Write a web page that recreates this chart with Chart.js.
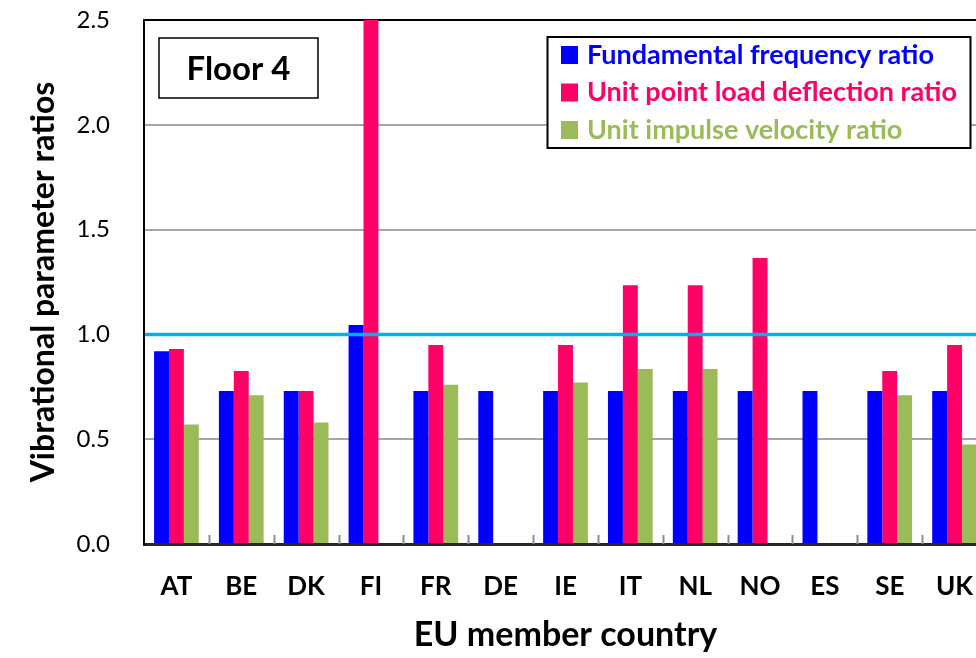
<!DOCTYPE html>
<html lang="en">
<head>
    <meta charset="UTF-8">
    <title>Floor 4 - vibrational parameter ratios</title>
    <script src="https://cdn.jsdelivr.net/npm/chart.js"></script>
    <style>
        html, body {
            margin: 0;
            padding: 0;
            background: #ffffff;
            overflow: hidden;
        }

        canvas {
            display: block;
        }
    </style>
</head>
<body>
    <canvas id="floorChart" width="992" height="658"></canvas>

    <script>
        // Data
        const countries = ['AT', 'BE', 'DK', 'FI', 'FR', 'DE', 'IE', 'IT', 'NL', 'NO', 'ES', 'SE', 'UK'];
        const frequencyRatio = [0.92, 0.73, 0.73, 1.045, 0.73, 0.73, 0.73, 0.73, 0.73, 0.73, 0.73, 0.73, 0.73];
        const deflectionRatio = [0.93, 0.825, 0.73, 2.5, 0.95, null, 0.95, 1.235, 1.235, 1.365, null, 0.825, 0.95];
        const velocityRatio = [0.57, 0.71, 0.58, null, 0.76, null, 0.77, 0.835, 0.835, null, null, 0.71, 0.475];
        const yTicks = [0, 0.5, 1.0, 1.5, 2.0, 2.5];
        const referenceLine = 1.0;
        const panelLabel = 'Floor 4';

        const FONT = 'Lato, Calibri, "Open Sans", sans-serif';

        // Reference line at 1.0, small inner ticks, label box and legend box
        const decorations = {
            id: 'decorations',
            afterDatasetsDraw(chart) {
                const { ctx, chartArea } = chart;
                const x = chart.scales.x;
                const y = chart.scales.y;
                ctx.save();

                // inner tick marks between categories
                ctx.strokeStyle = '#8c8c8c';
                ctx.lineWidth = 2;
                for (let i = 1; i < countries.length; i++) {
                    const px = Math.round((x.getPixelForValue(i - 1) + x.getPixelForValue(i)) / 2) + 0.5;
                    ctx.beginPath();
                    ctx.moveTo(px, chartArea.bottom);
                    ctx.lineTo(px, chartArea.bottom - 9);
                    ctx.stroke();
                }

                // reference line
                const ry = y.getPixelForValue(referenceLine);
                ctx.strokeStyle = '#00b0f0';
                ctx.lineWidth = 3.5;
                ctx.beginPath();
                ctx.moveTo(chartArea.left + 1, ry);
                ctx.lineTo(chartArea.right, ry);
                ctx.stroke();
                ctx.restore();
            },
            afterDraw(chart) {
                const { ctx, chartArea } = chart;
                ctx.save();

                // "Floor 4" box
                const bx = chartArea.left + 15, by = 38, bw = 159, bh = 60;
                ctx.fillStyle = '#ffffff';
                ctx.fillRect(bx, by, bw, bh);
                ctx.strokeStyle = '#000000';
                ctx.lineWidth = 1.5;
                ctx.strokeRect(bx, by, bw, bh);
                ctx.fillStyle = '#000000';
                ctx.font = 'bold 33px ' + FONT;
                ctx.textAlign = 'center';
                ctx.textBaseline = 'middle';
                ctx.fillText(panelLabel, bx + bw / 2, by + bh / 2 + 1);

                // legend box
                const lx = 547.5, ly = 37, lw = 423, lh = 111;
                ctx.fillStyle = '#ffffff';
                ctx.fillRect(lx, ly, lw, lh);
                ctx.lineWidth = 2;
                ctx.strokeStyle = '#000000';
                ctx.strokeRect(lx, ly, lw, lh);

                ctx.font = 'bold 27px ' + FONT;
                ctx.textAlign = 'left';
                chart.data.datasets.forEach((ds, i) => {
                    const cy = 55 + i * 37.5;
                    ctx.fillStyle = ds.backgroundColor;
                    ctx.fillRect(561, cy - 9, 17, 18);
                    ctx.fillText(ds.label, 587, cy);
                });
                ctx.restore();
            }
        };

        const ctx = document.getElementById('floorChart').getContext('2d');
        new Chart(ctx, {
            type: 'bar',
            data: {
                labels: countries,
                datasets: [
                    { label: 'Fundamental frequency ratio', data: frequencyRatio, backgroundColor: '#0000ff' },
                    { label: 'Unit point load deflection ratio', data: deflectionRatio, backgroundColor: '#ff0066' },
                    { label: 'Unit impulse velocity ratio', data: velocityRatio, backgroundColor: '#9bbb59' }
                ]
            },
            options: {
                responsive: false,
                animation: false,
                categoryPercentage: 0.69,
                barPercentage: 1.0,
                layout: {
                    padding: { top: 20, right: 5, left: 0, bottom: 0 }
                },
                plugins: {
                    legend: { display: false },
                    tooltip: { enabled: false }
                },
                scales: {
                    x: {
                        // transparent tick marks are used to push the labels down
                        grid: { color: 'rgba(0,0,0,0)', drawTicks: true, tickLength: 27, tickColor: 'rgba(0,0,0,0)' },
                        border: { display: true, color: '#262626', width: 3 },
                        ticks: {
                            color: '#000000',
                            padding: 0,
                            font: { family: FONT, size: 26, weight: 'bold' }
                        },
                        title: {
                            display: true,
                            text: 'EU member country',
                            color: '#000000',
                            padding: { top: 0, bottom: 3 },
                            font: { family: FONT, size: 34, weight: 'bold' }
                        },
                        afterFit(scale) {
                            scale.height = 114;
                        }
                    },
                    y: {
                        min: 0,
                        max: 2.5,
                        afterBuildTicks(scale) {
                            scale.ticks = yTicks.map(v => ({ value: v }));
                        },
                        grid: {
                            drawTicks: true,
                            tickLength: 34,
                            tickColor: 'rgba(0,0,0,0)',
                            lineWidth: 2,
                            color: c => {
                                if (c.tick.value === 2.5) return '#000000';
                                if (c.tick.value === referenceLine || c.tick.value === 0) return 'rgba(0,0,0,0)';
                                return '#a6a6a6';
                            }
                        },
                        border: { display: true, color: '#000000', width: 2 },
                        ticks: {
                            color: '#000000',
                            padding: 0,
                            font: { family: FONT, size: 24 },
                            callback: v => Number(v).toFixed(1)
                        },
                        title: {
                            display: true,
                            text: 'Vibrational parameter ratios',
                            color: '#000000',
                            padding: { top: 24, bottom: 0 },
                            font: { family: FONT, size: 32, weight: 'bold' }
                        },
                        afterFit(scale) {
                            scale.width = 144;
                        }
                    }
                }
            },
            plugins: [decorations]
        });
    </script>
</body>
</html>
